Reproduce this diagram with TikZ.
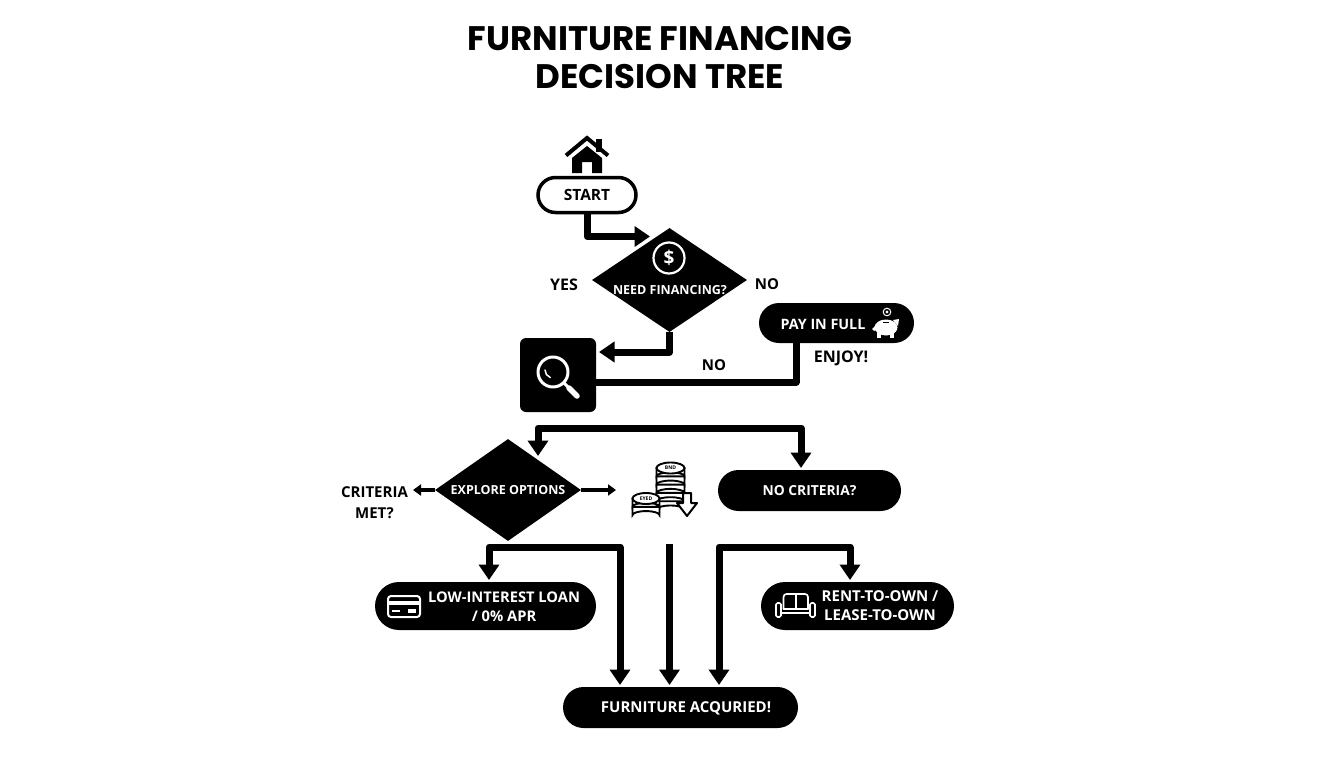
\documentclass[tikz,border=0pt]{standalone}
\usepackage{fontspec}
\setmainfont{Open Sans}
\newfontfamily\titlefont{Poppins}
\usetikzlibrary{arrows.meta,shapes.geometric,shapes.misc,calc}
\newcommand{\fs}[1]{\fontsize{#1}{#1}\selectfont}
\tikzset{
  wire/.style={line width=7pt,line join=round,-{Triangle[width=20pt,length=15.5pt]}},
  plainwire/.style={line width=7pt,line join=round},
  thinwire/.style={line width=3.5pt,-{Triangle[width=11pt,length=8pt]}},
  pill/.style={rounded rectangle,fill=black,text=white,align=center,inner sep=0pt},
  blackdiamond/.style={diamond,fill=black,text=white,inner sep=0pt,aspect=1.45},
  lbl/.style={font=\fs{15}\bfseries,align=center,inner sep=0pt,text=black},
  wlbl/.style={font=\fs{15}\bfseries,align=center,inner sep=0pt,text=white},
  wicon/.style={draw=white,line width=2pt,line join=round,line cap=round},
  kicon/.style={draw=black,line width=2pt,line join=round,fill=white},
}
\newcommand{\coinstack}[4]{% x, top y, half-width, count
  \foreach \ci in {#4,...,1}{
    \pgfmathsetmacro{\cy}{#2+(\ci)*8.3}
    \fill[white,draw=black,line width=1.9pt] (#1-#3,\cy-8.3) -- (#1-#3,\cy) arc[start angle=180,end angle=360,x radius=#3,y radius=4] -- (#1+#3,\cy-8.3) -- cycle;
  }
  \fill[white,draw=black,line width=1.9pt] (#1,#2) ellipse[x radius=#3,y radius=5.5];
}
\begin{document}
\begin{tikzpicture}[x=1pt,y=-1pt]
\useasboundingbox (0,0) rectangle (1344,768);
\fill[white] (0,0) rectangle (1344,768);

% title
\node[inner sep=0pt,font=\titlefont\fs{34}\bfseries,align=center] (title) at (660,58) {FURNITURE FINANCING\\[4pt]DECISION TREE};

% nodes
\node[rounded rectangle,draw=black,line width=3.5pt,fill=white,minimum width=98pt,minimum height=35pt,inner sep=0pt,font=\fs{15.5}\bfseries] (start) at (587,195) {START};
\node[blackdiamond,minimum width=155pt,minimum height=104pt] (need) at (669.5,280) {};
\node[wlbl,font=\fs{12.5}\bfseries] (needlbl) at (670,290) {NEED FINANCING?};
\node[lbl,font=\fs{16}\bfseries] (yes) at (564,284.5) {YES};
\node[lbl] (nolbla) at (767,284.5) {NO};
\node[pill,minimum width=155pt,minimum height=40pt] (full) at (836.5,323) {};
\node[wlbl,font=\fs{14.3}\bfseries] (fulllbl) at (823,324) {PAY IN FULL};
\node[lbl,font=\fs{16}\bfseries] (enjoy) at (841,358.5) {ENJOY!};
\node[lbl] (nolblb) at (714,365) {NO};
\node[fill=black,rounded corners=6pt,minimum width=76pt,minimum height=74pt,inner sep=0pt] (search) at (558,375) {};
\node[blackdiamond,minimum width=146pt,minimum height=102pt,font=\fs{12.5}\bfseries] (explore) at (508,490) {EXPLORE OPTIONS};
\node[lbl] (criteria) at (374.5,503) {CRITERIA\\[6pt]MET?};
\node[pill,minimum width=183pt,minimum height=41pt,font=\fs{13.8}\bfseries] (nocrit) at (809.5,490.5) {NO CRITERIA?};
\node[pill,minimum width=221pt,minimum height=48pt] (loan) at (485.5,606) {};
\node[wlbl,font=\fs{14.7}\bfseries] (loanlbl) at (504,606.5) {LOW-INTEREST LOAN\\[4pt]/ 0\% APR};
\node[pill,minimum width=193pt,minimum height=48pt] (rent) at (857.5,606) {};
\node[wlbl] (rentlbl) at (880,606) {RENT-TO-OWN /\\[4pt]LEASE-TO-OWN};
\node[pill,minimum width=235pt,minimum height=41pt] (done) at (680.5,707.5) {};
\node[wlbl] (donelbl) at (686,708.5) {FURNITURE ACQURIED!};

% free ends
\coordinate (needin) at (650,236.5);
\coordinate (searchin) at (599,352);
\coordinate (searchout) at (596,382);
\coordinate (fullfoot) at (796,343);
\coordinate (splitl) at (538,456);
\coordinate (splitr) at (801,468);
\coordinate (splitlc) at (538,428);
\coordinate (splitrc) at (801,428);
\coordinate (critl) at (413,490);
\coordinate (critr) at (616,490);
\coordinate (loanin) at (489,580);
\coordinate (rentin) at (850,580);
\coordinate (loanc) at (489,547);
\coordinate (rentc) at (850,547);
\coordinate (bl) at (620,685);
\coordinate (bm) at (669.5,685);
\coordinate (br) at (719,685);
\coordinate (blt) at (620,547);
\coordinate (bmt) at (669.5,544);
\coordinate (brt) at (719,547);

% connectors
\draw[wire] (start.south) |- (needin);
\draw[wire] (need.south) |- (searchin);
\draw[plainwire] (searchout) -| (fullfoot);
\draw[wire] (splitrc) -- (splitlc) -- (splitl);
\draw[wire] (splitlc) -- (splitrc) -- (splitr);
\draw[thinwire] (explore.west) -- (critl);
\draw[thinwire] (explore.east) -- (critr);
\draw[wire] (blt) -- (loanc) -- (loanin);
\draw[wire] (loanc) -- (blt) -- (bl);
\draw[wire] (bmt) -- (bm);
\draw[wire] (rentc) -- (brt) -- (br);
\draw[wire] (brt) -- (rentc) -- (rentin);

% house icon
\fill[black] (596,139) rectangle (602,152);
\draw[black,line width=4pt,miter limit=10] (566,155.5) -- (587,138) -- (608,155.5);
\fill[black] (572,173) -- (572,158) -- (587,146) -- (602,158) -- (602,173) -- (592,173) -- (592,162) -- (582,162) -- (582,173) -- cycle;

% dollar icon
\draw[white,line width=2.2pt] (669,258) circle[radius=15.5];
\node[wlbl,font=\fs{19}\bfseries] (dollar) at (669,258) {\$};

% piggy icon
\fill[white] (886,327.5) ellipse[x radius=11.5,y radius=8];
\fill[white] (893,320) -- (899,319) -- (898,326) -- cycle;
\fill[white] (877,333) rectangle (881,337.5);
\fill[white] (890,333) rectangle (894,337.5);
\fill[white] (875,326) -- (872,329) -- (874,331) -- (877,329) -- cycle;
\fill[black] (883,322) rectangle (889,323.2);
\draw[white,line width=1pt] (887,312) circle[radius=3.8];
\fill[white] (887,312) circle[radius=1.6];

% magnifier icon
\draw[wicon,line width=3pt] (553,372) circle[radius=15];
\draw[wicon,line width=1.5pt] (545,370) arc[start angle=180,end angle=110,radius=8];
\draw[wicon,line width=3pt] (564,383) -- (568,387);
\draw[wicon,line width=5.5pt] (569,388) -- (577,396);

% coins icon
\coinstack{670.5}{468}{14}{5}
\node[inner sep=0pt,font=\fs{5}\bfseries] (coina) at (670.5,468) {BND};
\coinstack{646}{498.5}{13.5}{2}
\node[inner sep=0pt,font=\fs{5}\bfseries] (coinb) at (646,498.5) {EYED};
\draw[kicon] (683,493) -- (691,493) -- (691,503) -- (697,503) -- (687,516) -- (677,503) -- (683,503) -- cycle;

% card icon
\draw[wicon,line width=2pt,rounded corners=3pt] (388,596) rectangle (420,617);
\fill[white] (388,601) rectangle (420,604.5);
\fill[white] (392,610) rectangle (400,612);
\fill[white] (408,609) rectangle (416,613);

% sofa icon
\draw[wicon,line width=1.7pt,rounded corners=3pt] (783.5,609) -- (783.5,594) -- (808,594) -- (808,609);
\draw[wicon,line width=1.7pt] (795.8,594) -- (795.8,609) ;
\draw[wicon,line width=1.7pt] (783.5,609) -- (808,609);
\draw[wicon,line width=1.7pt] (781,613) -- (810,613);
\draw[wicon,line width=1.7pt,rounded corners=1.5pt] (776,603) rectangle (781,617);
\draw[wicon,line width=1.7pt,rounded corners=1.5pt] (810,603) rectangle (815,617);
\end{tikzpicture}
\end{document}
